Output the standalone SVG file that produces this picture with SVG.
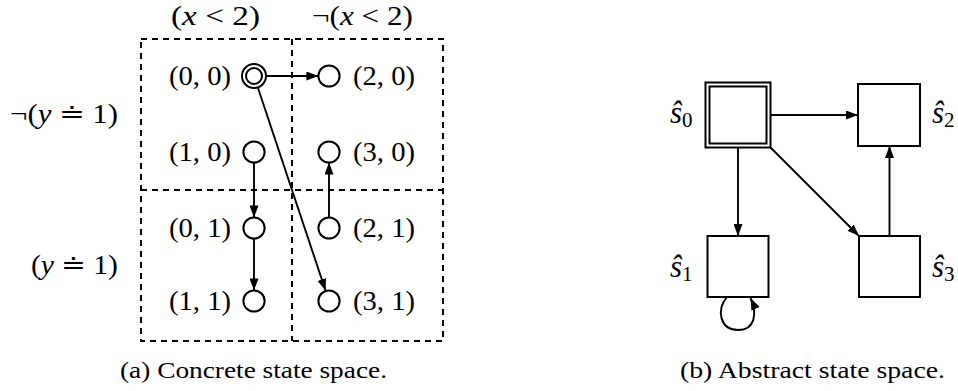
<svg xmlns="http://www.w3.org/2000/svg" width="958" height="391" viewBox="0 0 958 391" font-family="'Liberation Serif', 'Times New Roman', serif">
<defs>
<marker id="ah" viewBox="0 0 12 9" refX="12" refY="4.5" markerWidth="12" markerHeight="9" markerUnits="userSpaceOnUse" orient="auto">
<path d="M0,0 L12,4.5 L0,9 Z" fill="#000"/>
</marker>
<style>
text{font-family:'Liberation Serif','Times New Roman',serif;fill:#000}
.m{font-size:28px}
.s{font-size:31px}
.sub{font-size:21px}
.cap{font-size:24px}
.i{font-style:italic}
.st{fill:#fff;stroke:#000;stroke-width:2}
.dash{fill:none;stroke:#000;stroke-width:2;stroke-dasharray:6 5}
.e{fill:none;stroke:#000;stroke-width:1.9;marker-end:url(#ah)}
</style>
</defs>
<rect width="958" height="391" fill="#fff"/>

<g id="regions">
<rect class="dash" x="141" y="39" width="302" height="302"/>
<line class="dash" x1="292" y1="39" x2="292" y2="341"/>
<line class="dash" x1="141" y1="190" x2="443" y2="190"/>
<text class="m" x="171" y="25" textLength="89" lengthAdjust="spacingAndGlyphs">(<tspan class="i">x</tspan> &lt; 2)</text>
<text class="m" x="312" y="25" textLength="101" lengthAdjust="spacingAndGlyphs">¬(<tspan class="i">x</tspan> &lt; 2)</text>
<text class="m" x="10" y="123" textLength="108" lengthAdjust="spacingAndGlyphs">¬(<tspan class="i">y</tspan> ≐ 1)</text>
<text class="m" x="31" y="274" textLength="87" lengthAdjust="spacingAndGlyphs">(<tspan class="i">y</tspan> ≐ 1)</text>
</g>

<g id="c00">
<circle class="st" cx="254" cy="76" r="12"/>
<circle class="st" cx="254" cy="76" r="8"/>
<text class="m" x="231" y="85" text-anchor="end" textLength="62" lengthAdjust="spacingAndGlyphs">(0, 0)</text>
</g>
<g id="c10">
<circle class="st" cx="254" cy="152" r="10.6"/>
<text class="m" x="231" y="161" text-anchor="end" textLength="62" lengthAdjust="spacingAndGlyphs">(1, 0)</text>
</g>
<g id="c01">
<circle class="st" cx="254" cy="228" r="10.6"/>
<text class="m" x="231" y="237" text-anchor="end" textLength="62" lengthAdjust="spacingAndGlyphs">(0, 1)</text>
</g>
<g id="c11">
<circle class="st" cx="254" cy="301" r="10.6"/>
<text class="m" x="231" y="310" text-anchor="end" textLength="62" lengthAdjust="spacingAndGlyphs">(1, 1)</text>
</g>
<g id="c20">
<circle class="st" cx="329" cy="76" r="10.6"/>
<text class="m" x="353" y="85" textLength="62" lengthAdjust="spacingAndGlyphs">(2, 0)</text>
</g>
<g id="c30">
<circle class="st" cx="329" cy="152" r="10.6"/>
<text class="m" x="353" y="161" textLength="62" lengthAdjust="spacingAndGlyphs">(3, 0)</text>
</g>
<g id="c21">
<circle class="st" cx="329" cy="228" r="10.6"/>
<text class="m" x="353" y="237" textLength="62" lengthAdjust="spacingAndGlyphs">(2, 1)</text>
</g>
<g id="c31">
<circle class="st" cx="329" cy="301" r="10.6"/>
<text class="m" x="353" y="310" textLength="62" lengthAdjust="spacingAndGlyphs">(3, 1)</text>
</g>

<g id="s0">
<rect class="st" x="705.5" y="82.5" width="65" height="65"/>
<rect class="st" x="709.5" y="86.5" width="57" height="57"/>
<text class="s" x="670" y="123"><tspan class="i">ŝ</tspan><tspan class="sub" dy="4">0</tspan></text>
</g>
<g id="s2">
<rect class="st" x="858" y="84" width="62" height="62"/>
<text class="s" x="932" y="123"><tspan class="i">ŝ</tspan><tspan class="sub" dy="4">2</tspan></text>
</g>
<g id="s1">
<rect class="st" x="707.5" y="236" width="61" height="61"/>
<text class="s" x="670" y="277"><tspan class="i">ŝ</tspan><tspan class="sub" dy="4">1</tspan></text>
</g>
<g id="s3">
<rect class="st" x="859" y="236" width="61" height="61"/>
<text class="s" x="932" y="277"><tspan class="i">ŝ</tspan><tspan class="sub" dy="4">3</tspan></text>
</g>

<g id="connectors">
<line class="e" x1="266" y1="76" x2="318.4" y2="76"/>
<line class="e" x1="254" y1="162.6" x2="254" y2="217.4"/>
<line class="e" x1="254" y1="238.6" x2="254" y2="290.4"/>
<line class="e" x1="329" y1="217.4" x2="329" y2="162.6"/>
<line class="e" x1="258" y1="88" x2="325.6" y2="290.8"/>
<line class="e" x1="770.5" y1="115" x2="858" y2="115"/>
<line class="e" x1="738" y1="147.5" x2="738" y2="236"/>
<line class="e" x1="770.5" y1="147.5" x2="859" y2="236"/>
<line class="e" x1="889.5" y1="236" x2="889.5" y2="146"/>
<path class="e" d="M727,297 C716,310 720,330 738,330 C756,330 757,312 750.5,298"/>
</g>

<g id="captions">
<text class="cap" x="120" y="378" textLength="267" lengthAdjust="spacingAndGlyphs">(a) Concrete state space.</text>
<text class="cap" x="680" y="378" textLength="265" lengthAdjust="spacingAndGlyphs">(b) Abstract state space.</text>
</g>
</svg>
